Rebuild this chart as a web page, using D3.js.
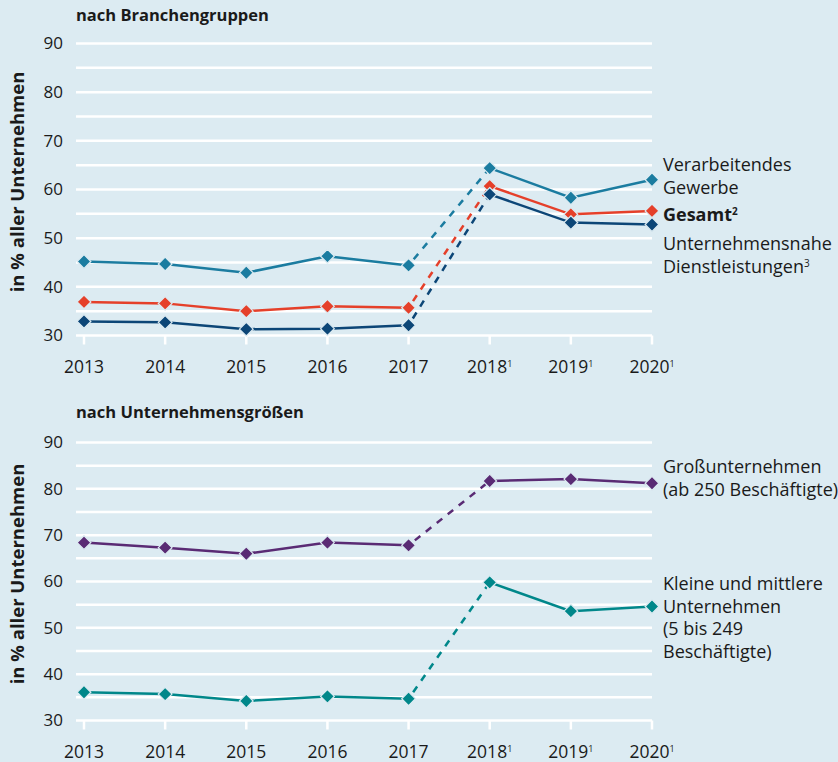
<!DOCTYPE html>
<html>
<head>
<meta charset="utf-8">
<title>Anteil Unternehmen</title>
<style>
  body { margin: 0; background: #dcebf2; }
  svg { display: block; font-family: "Open Sans", "Noto Sans", sans-serif; }
  .grid line { stroke: #fff; stroke-width: 2.5; }
  text { fill: #1a1a1a; }
</style>
</head>
<body>
<svg width="838" height="762"></svg>
<script src="https://d3js.org/d3.v7.min.js"></script>
<script>
const years = ['2013', '2014', '2015', '2016', '2017', '2018', '2019', '2020'];
const yearNotes = ['', '', '', '', '', '1', '1', '1'];
const yTicks = [30, 40, 50, 60, 70, 80, 90];

const verarbeitend = [45.2, 44.7, 42.9, 46.3, 44.4, 64.4, 58.3, 62.0];
const gesamt = [36.9, 36.6, 35.0, 36.0, 35.7, 60.7, 54.9, 55.6];
const dienstleistung = [32.9, 32.7, 31.3, 31.4, 32.1, 59.0, 53.2, 52.8];
const gross = [68.4, 67.3, 66.0, 68.4, 67.8, 81.7, 82.1, 81.2];
const kmu = [36.1, 35.7, 34.2, 35.2, 34.7, 59.8, 53.6, 54.6];

const svg = d3.select('svg');
const x = d3.scalePoint().domain(years).range([84, 652]);

const panels = [
  {
    title: 'nach Branchengruppen', titleY: 21, top: 43.5, bottom: 335.5, axisMid: 182,
    series: [
      { values: verarbeitend, color: '#1b7ca0' },
      { values: gesamt, color: '#e5402a' },
      { values: dienstleistung, color: '#0c4677' }
    ],
    labels: [
      { lines: [['Verarbeitendes'], ['Gewerbe']], y: 171 },
      { lines: [['Gesamt', '2']], y: 221, bold: true },
      { lines: [['Unternehmensnahe'], ['Dienstleistungen', '3']], y: 250 }
    ]
  },
  {
    title: 'nach Unternehmensgrößen', titleY: 418, top: 442.5, bottom: 720.5, axisMid: 574,
    series: [
      { values: gross, color: '#5a2b74' },
      { values: kmu, color: '#00878a' }
    ],
    labels: [
      { lines: [['Großunternehmen'], ['(ab 250 Beschäftigte)']], y: 473 },
      { lines: [['Kleine und mittlere'], ['Unternehmen'], ['(5 bis 249'], ['Beschäftigte)']], y: 590 }
    ]
  }
];

panels.forEach(p => {
  const y = d3.scaleLinear().domain([30, 90]).range([p.bottom, p.top]);
  const g = svg.append('g');

  // gridlines every 5
  const grid = g.append('g').attr('class', 'grid');
  grid.selectAll('line.h').data(d3.range(30, 91, 5)).join('line')
    .attr('class', 'h')
    .attr('x1', 76).attr('x2', 652)
    .attr('y1', d => y(d)).attr('y2', d => y(d));
  grid.selectAll('line.t').data(years).join('line')
    .attr('class', 't')
    .attr('x1', d => x(d)).attr('x2', d => x(d))
    .attr('y1', y(30)).attr('y2', y(30) + 9);

  // y tick labels
  g.selectAll('text.yt').data(yTicks).join('text')
    .attr('class', 'yt')
    .attr('x', 63).attr('y', d => y(d))
    .attr('dy', '0.35em')
    .attr('text-anchor', 'end')
    .style('font-size', '17px')
    .text(d => d);

  // x tick labels
  const xt = g.selectAll('text.xt').data(years).join('text')
    .attr('class', 'xt')
    .attr('x', d => x(d)).attr('y', y(30) + 37)
    .attr('text-anchor', 'middle')
    .style('font-size', '17.5px');
  xt.append('tspan').text(d => d);
  xt.append('tspan')
    .style('font-size', '9px')
    .attr('dy', -6)
    .text((d, i) => yearNotes[i]);

  // title
  g.append('text')
    .attr('x', 76).attr('y', p.titleY)
    .style('font-size', '16.5px').style('font-weight', 'bold')
    .text(p.title);

  // y axis title
  g.append('text')
    .attr('transform', `translate(24,${p.axisMid}) rotate(-90)`)
    .attr('text-anchor', 'middle')
    .style('font-size', '18.5px').style('font-weight', 'bold')
    .text('in % aller Unternehmen');

  // series
  p.series.forEach(s => {
    const pts = s.values.map((v, i) => [x(years[i]), y(v)]);
    const line = d3.line();
    g.append('path').attr('d', line(pts.slice(0, 5)))
      .attr('fill', 'none').attr('stroke', s.color).attr('stroke-width', 2.5);
    g.append('path').attr('d', line(pts.slice(4, 6)))
      .attr('fill', 'none').attr('stroke', s.color).attr('stroke-width', 2.5)
      .attr('stroke-dasharray', '7 7').attr('stroke-dashoffset', -8);
    g.append('path').attr('d', line(pts.slice(5)))
      .attr('fill', 'none').attr('stroke', s.color).attr('stroke-width', 2.5);
    g.selectAll(null).data(pts).join('path')
      .attr('d', d3.symbol(d3.symbolDiamond2, 120)())
      .attr('transform', d => `translate(${d[0]},${d[1]})`)
      .attr('fill', s.color)
      .attr('stroke', '#dcebf2').attr('stroke-width', 1.2);
  });

  // series labels
  p.labels.forEach(l => {
    l.lines.forEach((ln, i) => {
      const t = g.append('text')
        .attr('x', 663).attr('y', l.y + i * 22.5)
        .style('font-size', '18px')
        .style('font-weight', l.bold ? 'bold' : 'normal');
      t.append('tspan').text(ln[0]);
      if (ln[1]) t.append('tspan').style('font-size', '10px').attr('dy', -6).text(ln[1]);
    });
  });
});
</script>
</body>
</html>
